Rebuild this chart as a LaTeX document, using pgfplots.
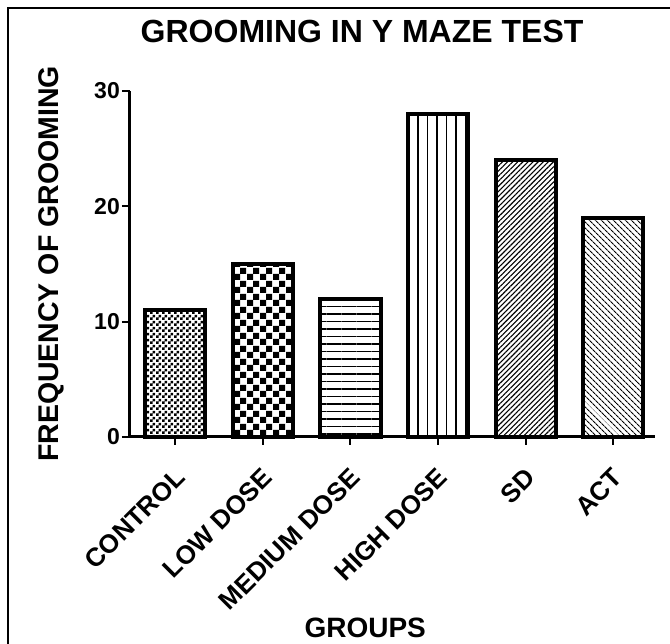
\documentclass[border=0pt]{standalone}
\usepackage{fontspec}
\setmainfont{Liberation Sans}
\usepackage{pgfplots}
\pgfplotsset{compat=1.18}
\usetikzlibrary{patterns,patterns.meta}

\pgfdeclarepatternformonly{finecheck}{\pgfqpoint{0pt}{0pt}}{\pgfqpoint{6pt}{6pt}}{\pgfqpoint{6pt}{6pt}}{%
  \pgfpathrectangle{\pgfqpoint{0pt}{0pt}}{\pgfqpoint{3pt}{3pt}}%
  \pgfpathrectangle{\pgfqpoint{3pt}{3pt}}{\pgfqpoint{3pt}{3pt}}%
  \pgfusepath{fill}}
\pgfdeclarepatternformonly{coarsecheck}{\pgfqpoint{0pt}{0pt}}{\pgfqpoint{13pt}{13pt}}{\pgfqpoint{13pt}{13pt}}{%
  \pgfpathrectangle{\pgfqpoint{0pt}{0pt}}{\pgfqpoint{6.5pt}{6.5pt}}%
  \pgfpathrectangle{\pgfqpoint{6.5pt}{6.5pt}}{\pgfqpoint{6.5pt}{6.5pt}}%
  \pgfusepath{fill}}

\begin{document}
\begin{tikzpicture}
\begin{axis}[
  name=ax,
  scale only axis, width=525pt, height=346pt,
  xmin=-0.52, xmax=5.48, ymin=0, ymax=30,
  ytick={0,10,20,30},
  xtick={0,1,2,3,4,5},
  xticklabels={CONTROL,LOW DOSE,MEDIUM DOSE,HIGH DOSE,SD,ACT},
  axis x line*=bottom, axis y line*=left,
  axis line style={line width=3pt},
  tick style={black, line width=2pt},
  major tick length=8pt, tick align=outside,
  /pgf/number format/assume math mode=true,
  yticklabel style={font=\fontsize{23}{26}\selectfont\bfseries, inner sep=2pt},
  xticklabel style={font=\fontsize{26}{30}\selectfont\bfseries, xshift=7pt, yshift=-26pt, rotate=45, anchor=east, inner sep=3pt},
  title={GROOMING IN Y MAZE TEST},
  title style={at={(axis description cs:0.442,1.156)}, anchor=center, font=\fontsize{32}{36}\selectfont\bfseries},
  xlabel={GROUPS},
  xlabel style={at={(axis description cs:0.448,-0.552)}, anchor=center, font=\fontsize{28}{32}\selectfont\bfseries},
  ylabel={FREQUENCY OF GROOMING},
  ylabel style={at={(axis description cs:-0.150,0.5)}, anchor=center, font=\fontsize{28.5}{32}\selectfont\bfseries},
  ybar, bar width=60pt, bar shift=0pt,
  clip=false,
]
\addplot[ybar, bar shift=0pt, draw=black, line width=4pt, pattern=finecheck] coordinates {(0,11)};
\addplot[ybar, bar shift=0pt, draw=black, line width=4pt, pattern=coarsecheck] coordinates {(1,15)};
\addplot[ybar, bar shift=0pt, draw=black, line width=4pt, pattern={Lines[angle=0,distance=7.5pt,line width=1.5pt]}] coordinates {(2,12)};
\addplot[ybar, bar shift=0pt, draw=black, line width=4pt, pattern={Lines[angle=90,distance=9.5pt,line width=1.2pt]}] coordinates {(3,28)};
\addplot[ybar, bar shift=0pt, draw=black, line width=4pt, pattern={Lines[angle=45,distance=3.6pt,line width=1.1pt]}] coordinates {(4,24)};
\addplot[ybar, bar shift=0pt, draw=black, line width=4pt, pattern={Lines[angle=-45,distance=4pt,line width=1.1pt]}] coordinates {(5,19)};
\end{axis}
\pgfresetboundingbox
\useasboundingbox ([shift={(-130pt,-207pt)}]ax.south west) rectangle ([shift={(540pt,437pt)}]ax.south west);
\draw[line width=1.3pt] ([shift={(-122pt,-230pt)}]ax.south west) -- ([shift={(-122pt,429pt)}]ax.south west) -- ([shift={(570pt,429pt)}]ax.south west);
\end{tikzpicture}
\end{document}
